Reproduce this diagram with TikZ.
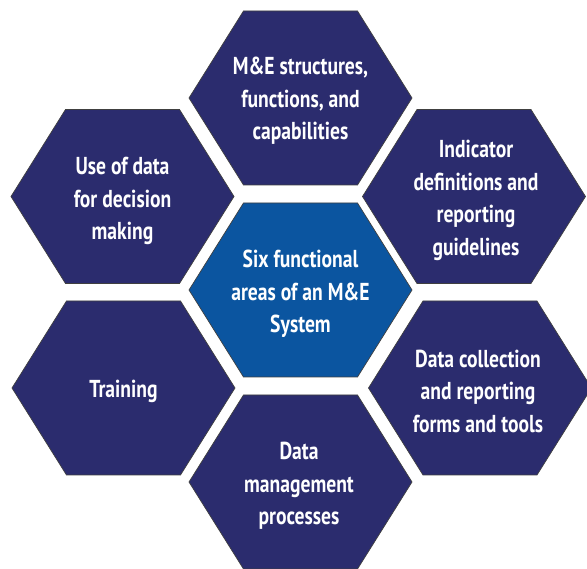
\documentclass[tikz,border=0pt]{standalone}
\usepackage{fontspec}
\setmainfont{PT Sans}[FakeStretch=0.8]
\definecolor{navy}{RGB}{43,44,110}
\definecolor{midblue}{RGB}{11,85,160}
\newcommand\hexshape[3]{%
  \path[hexbox, fill=#3] (#1,#2) ++(-111.5,0) -- ++(54.5,-87) -- ++(114,0) -- ++(54.5,87) -- ++(-54.5,87) -- ++(-114,0) -- cycle;}
\begin{document}
\begin{tikzpicture}[x=1pt,y=-1pt,
  hexbox/.style={draw=black!75, line width=0.7pt},
  hexlabel/.style={text=white, font=\fontsize{24.5}{32.5}\selectfont\bfseries, align=center, inner sep=0pt}]
\useasboundingbox (0,0) rectangle (587,569);
\clip (0,0) rectangle (587,569);
\hexshape{300.5}{98}{navy}
\hexshape{300.5}{290}{midblue}
\hexshape{300.5}{482}{navy}
\hexshape{122.5}{196.5}{navy}
\hexshape{123.5}{388}{navy}
\hexshape{474}{196.5}{navy}
\hexshape{480}{388}{navy}
\node[hexlabel] (center) at (300.5,294) {Six functional\\areas of an M\&E\\System};
\node[hexlabel] (top) at (300.5,101) {M\&E structures,\\functions, and\\capabilities};
\node[hexlabel] (indicator) at (476,200.5) {Indicator\\definitions and\\reporting\\guidelines};
\node[hexlabel] (collection) at (478,391) {Data collection\\and reporting\\forms and tools};
\node[hexlabel] (management) at (299,486) {Data\\management\\processes};
\node[hexlabel] (training) at (123.5,391) {Training};
\node[hexlabel] (use) at (122.5,201) {Use of data\\for decision\\making};
\end{tikzpicture}
\end{document}
